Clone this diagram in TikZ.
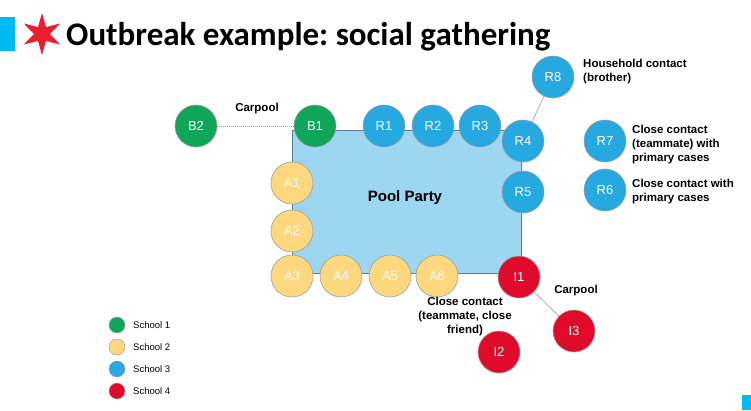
\documentclass[tikz,border=0pt]{standalone}
\usepackage{fontspec}
\setmainfont{Liberation Sans}
\newfontfamily\titlefont{Carlito}
\frenchspacing
\begin{document}
\begin{tikzpicture}[x=1pt,y=-1pt]
\definecolor{sgreen}{RGB}{16,166,90}
\definecolor{syellow}{RGB}{253,216,126}
\definecolor{sblue}{RGB}{38,168,224}
\definecolor{sred}{RGB}{224,10,42}
\definecolor{pool}{RGB}{157,214,240}
\definecolor{pooledge}{RGB}{95,125,150}
\definecolor{barblue}{RGB}{0,185,242}
\definecolor{starred}{RGB}{237,28,46}
\tikzset{
  person/.style={circle, draw=gray!75, line width=0.6pt, minimum size=42pt, inner sep=0pt, text=white, font=\fontsize{13}{15}\selectfont},
  green/.style={person, fill=sgreen},
  yellow/.style={person, fill=syellow},
  blue/.style={person, fill=sblue},
  red/.style={person, fill=sred},
  lbl/.style={font=\bfseries\fontsize{11.5}{14}\selectfont, align=left, inner sep=0pt},
  link/.style={draw=gray!80, line width=0.6pt},
  legdot/.style={circle, draw=gray!75, line width=0.5pt, minimum size=16pt, inner sep=0pt},
  legtext/.style={font=\fontsize{9.5}{11}\selectfont, anchor=west, inner sep=0pt}
}
\useasboundingbox (0,0) rectangle (751,410);
\fill[white] (0,0) rectangle (751,410);
% title decorations
\fill[barblue] (0,17) rectangle (15,51);
\fill[starred] (42,34) +(90:21) -- +(120:8) -- +(150:21) -- +(180:8) -- +(210:21) -- +(240:8)
  -- +(270:21) -- +(300:8) -- +(330:21) -- +(0:8) -- +(30:21) -- +(60:8) -- cycle;
\node[anchor=base west, inner sep=0pt, font=\titlefont\bfseries\fontsize{33}{36}\selectfont] (title) at (66,45) {Outbreak example: social gathering};
\fill[barblue] (742,395) rectangle (751,410);
% pool
\node[draw=pooledge, fill=pool, line width=0.6pt, minimum width=229pt, minimum height=143pt, inner sep=0pt, anchor=north west] (poolbox) at (292,130) {};
\node[font=\bfseries\fontsize{15}{17}\selectfont] (poollbl) at (405,198) {Pool Party};
% people
\node[green] (B2) at (196,126) {B2};
\node[green] (B1) at (315,126) {B1};
\draw[draw=gray!85, line width=1pt, densely dotted] (B2) -- (B1);
\node[blue] (R1) at (384,126) {R1};
\node[blue] (R2) at (433,126) {R2};
\node[blue] (R3) at (480,126) {R3};
\node[blue] (R8) at (553,77) {R8};
\node[blue] (R4) at (523,141) {R4};
\node[blue] (R5) at (523,192) {R5};
\node[blue] (R7) at (605,141) {R7};
\node[blue] (R6) at (605,190) {R6};
\node[yellow] (A1) at (292,183) {A1};
\node[yellow] (A2) at (292,231) {A2};
\node[yellow] (A3) at (292,276) {A3};
\node[yellow] (A4) at (341,276) {A4};
\node[yellow] (A5) at (390,276) {A5};
\node[yellow] (A6) at (437,276) {A6};
\node[red] (I1) at (519,277) {I1};
\node[red] (I2) at (499,352) {I2};
\node[red] (I3) at (574,331) {I3};
\draw[link] (R4) -- (R8);
\draw[link] (I1) -- (I3);
% labels
\node[lbl] (carpoolB) at (257,109) {Carpool};
\node[lbl, anchor=north west] (hh) at (583,59) {Household contact\\(brother)};
\node[lbl, anchor=north west] (r7l) at (632,125) {Close contact\\(teammate) with\\primary cases};
\node[lbl, anchor=north west] (r6l) at (632,179) {Close contact with\\primary cases};
\node[lbl, align=center, anchor=north] (i2l) at (465,297) {Close contact\\(teammate, close\\friend)};
\node[lbl] (carpoolI) at (576,291) {Carpool};
% legend
\node[legdot, fill=sgreen] (L1) at (117,325) {};
\node[legdot, fill=syellow] (L2) at (117,347) {};
\node[legdot, fill=sblue] (L3) at (117,369) {};
\node[legdot, fill=sred] (L4) at (117,391) {};
\node[legtext] (T1) at (133,325) {School 1};
\node[legtext] (T2) at (133,347) {School 2};
\node[legtext] (T3) at (133,369) {School 3};
\node[legtext] (T4) at (133,391) {School 4};
\end{tikzpicture}
\end{document}
